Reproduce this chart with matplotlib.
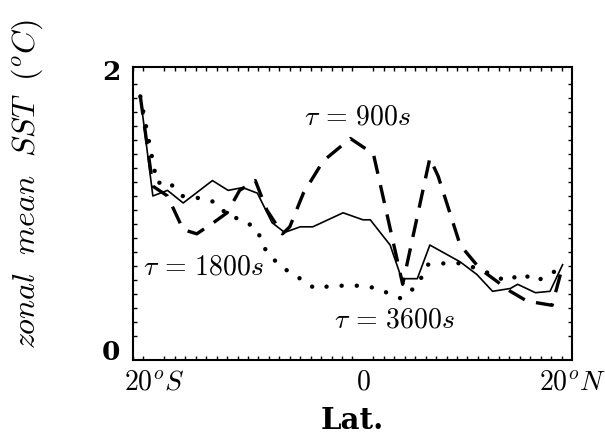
import numpy as np
import matplotlib
matplotlib.use("Agg")
import matplotlib.pyplot as plt
from matplotlib.ticker import MultipleLocator

plt.rcParams['mathtext.fontset'] = 'cm'
plt.rcParams['font.family'] = 'DejaVu Serif'

### data ###
lat_solid = [-21.3, -20.1, -18.7, -17.2, -14.4, -12.9, -11.5, -10.1, -8.7, -7.5,
             -6.0, -4.8, -1.9, 0.0, 0.7, 2.6, 3.7, 5.2, 6.4, 9.3, 10.9, 12.4,
             14.1, 14.8, 16.5, 17.9, 19.1]
sst_1800 = [1.81, 1.10, 1.14, 1.05, 1.21, 1.14, 1.16, 1.12, 0.91, 0.84,
            0.88, 0.88, 0.98, 0.93, 0.93, 0.75, 0.51, 0.51, 0.75, 0.63, 0.54, 0.42,
            0.44, 0.47, 0.41, 0.42, 0.61]

lat_dash = [-21.3, -20.1, -18.7, -17.2, -15.9, -14.3, -13.0, -11.8, -10.3, -9.2,
            -7.7, -7.0, -5.7, -3.8, -1.2, 1.0, 3.8, 6.4, 7.2, 9.3, 11.2, 14.1,
            15.7, 18.1, 19.1]
sst_900 = [1.81, 1.17, 1.10, 0.86, 0.83, 0.91, 0.98, 1.14, 1.21, 1.00,
           0.83, 0.88, 1.12, 1.35, 1.51, 1.40, 0.47, 1.37, 1.24, 0.75, 0.58, 0.42,
           0.35, 0.32, 0.60]

lat_dot = [-21.3, -19.7, -18.7, -17.3, -16.1, -14.6, -13.7, -13.0, -11.5, -10.1,
           -9.6, -8.9, -7.5, -6.0, -4.6, -2.9, -1.0, 0.0, 1.4, 2.6, 3.6, 5.2,
           6.2, 7.9, 9.5, 11.7, 13.8, 15.2, 16.5, 17.9, 19.1]
sst_3600 = [1.81, 1.19, 1.21, 1.10, 1.09, 1.07, 1.03, 0.96, 0.93, 0.86,
            0.75, 0.67, 0.58, 0.51, 0.44, 0.46, 0.46, 0.46, 0.44, 0.40, 0.37, 0.46,
            0.61, 0.62, 0.62, 0.56, 0.49, 0.55, 0.49, 0.54, 0.60]

fig = plt.figure(figsize=(6.05, 4.45), dpi=100)
ax = fig.add_axes([133/605, 1-360/445, (572-133)/605, (360-67)/445])

ax.plot(lat_solid, sst_1800, color='k', lw=1.2)
ax.plot(lat_dash, sst_900, color='k', lw=2.4, dashes=(5.5, 3.5))
ax.plot(lat_dot, sst_3600, color='k', lw=3.2, dashes=(0.01, 3.4),
        dash_capstyle='round')

ax.set_xlim(-22, 20)
ax.set_ylim(-0.07, 2.02)

ax.set_xticks([-20, 0, 20])
ax.set_xticklabels([r'$20^oS$', r'$0$', r'$20^oN$'], fontsize=20)
ax.set_yticks([0, 2])
ax.set_yticklabels(['0', '2'], fontsize=19, fontweight='bold')
ax.xaxis.set_minor_locator(MultipleLocator(1))
ax.yaxis.set_minor_locator(MultipleLocator(0.1))
ax.tick_params(which='both', direction='in', top=True, right=True)
ax.tick_params(which='major', length=0, pad=9)
ax.tick_params(axis='x', which='major', pad=6)
ax.tick_params(which='minor', length=3, width=1)
for s in ax.spines.values():
    s.set_linewidth(1.5)

ax.text(-0.5, 1.66, r'$\tau\, =\, 900s$', fontsize=20, ha='center', va='center')
ax.text(-15.3, 0.59, r'$\tau\, =\, 1800s$', fontsize=20, ha='center', va='center')
ax.text(3.0, 0.215, r'$\tau\, =\, 3600s$', fontsize=20, ha='center', va='center')

ax.set_xlabel('Lat.', fontsize=21, fontweight='bold', labelpad=8)
ax.set_ylabel(r'$zonal\ \ mean\ \ SST\ \ (^oC)$', fontsize=23)
ax.yaxis.set_label_coords(-0.2, 0.6)

fig.savefig('out.png', dpi=100)
